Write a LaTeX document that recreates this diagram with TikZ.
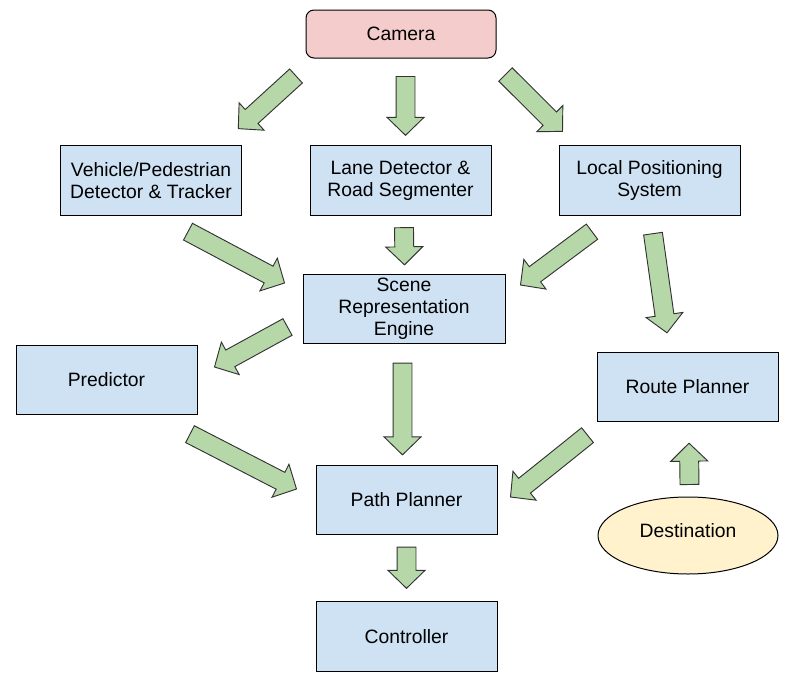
\documentclass[tikz,border=0pt]{standalone}
\usepackage{fontspec}
\setmainfont{Liberation Sans}
\usepackage{tikz}
\usetikzlibrary{calc, shapes.geometric}
\definecolor{boxblue}{HTML}{CFE2F3}
\definecolor{campink}{HTML}{F4CCCC}
\definecolor{destyellow}{HTML}{FFF2CC}
\definecolor{flowgreen}{HTML}{B6D7A8}
\definecolor{edgegray}{HTML}{333333}

% block arrow: tail #1, tip #2
\newcommand{\blockarrow}[2]{%
  \coordinate (ba-a) at #1;
  \coordinate (ba-b) at #2;
  \coordinate (ba-h) at ($(ba-b)!13.5pt!(ba-a)$);
  \draw[flow] ($(ba-a)!7.1pt!90:(ba-b)$) -- ($(ba-h)!7.1pt!90:(ba-b)$)
    -- ($(ba-h)!13.9pt!90:(ba-b)$) -- (ba-b)
    -- ($(ba-h)!13.9pt!-90:(ba-b)$) -- ($(ba-h)!7.1pt!-90:(ba-b)$)
    -- ($(ba-a)!7.1pt!-90:(ba-b)$) -- cycle;
}

\begin{document}
\begin{tikzpicture}[
    x=0.75pt, y=-0.75pt,
    box/.style={draw=black, line width=0.75pt, fill=boxblue, minimum width=135.75pt, minimum height=52pt, inner sep=2pt, align=center, font=\fontsize{14.5}{16.5}\selectfont},
    flow/.style={draw=edgegray, line width=0.7pt, fill=flowgreen, line join=miter}
]
\useasboundingbox (0,0) rectangle (800,696);

% Source
\node[box, fill=campink, rounded corners=6pt, minimum width=142.5pt, minimum height=36pt] (cam) at (401,34) {Camera};

% Perception row
\node[box] (vpd) at (151,180.5) {Vehicle/Pedestrian\\Detector \& Tracker};
\node[box] (lane) at (400.5,180.5) {Lane Detector \&\\Road Segmenter};
\node[box] (lps) at (649.5,180.5) {Local Positioning\\System};

% Scene
\node[box, minimum width=151.5pt] (scene) at (404,309) {Scene\\Representation\\Engine};

% Planning
\node[box] (pred) at (106.5,380) {Predictor};
\node[box] (route) at (687.5,387) {Route Planner};
\node[box] (path) at (406.5,500) {Path Planner};
\node[box] (ctrl) at (406.5,636.5) {Controller};
\node[box, ellipse, fill=destyellow, inner sep=0pt, text depth=7pt, minimum width=135pt, minimum height=57.75pt] (dest) at (688,535.5) {Destination};

% Flows
\blockarrow{($(cam.south west)+(-9.5,17.5)$)}{($(vpd.north east)+(-3.7,-16.7)$)}
\blockarrow{($(cam.south)+(4.5,18)$)}{($(lane.north)+(5,-10)$)}
\blockarrow{($(cam.south east)+(9,16)$)}{($(lps.north west)+(4,-14)$)}
\blockarrow{($(vpd.south)+(37,16)$)}{($(scene.west)+(-18,-26)$)}
\blockarrow{($(lane.south)+(3.5,12)$)}{($(scene.north)+(0.5,-9)$)}
\blockarrow{($(lps.south)+(-57.5,16)$)}{($(scene.east)+(15,-24)$)}
\blockarrow{($(lps.south)+(3.5,18)$)}{($(route.north)+(-20.5,-19)$)}
\blockarrow{($(scene.west)+(-15,18)$)}{($(pred.east)+(17,-13)$)}
\blockarrow{($(scene.south)+(-1.5,19)$)}{($(path.north)+(-4,-10)$)}
\blockarrow{($(pred.south)+(83.5,19)$)}{($(path.west)+(-19,-11)$)}
\blockarrow{($(route.south west)+(-9,13)$)}{($(path.east)+(13,-3)$)}
\blockarrow{($(path.south)+(0,12)$)}{($(ctrl.north)+(0,-13)$)}
\blockarrow{($(dest.north)+(1.5,-12)$)}{($(route.south)+(1.5,21)$)}

\end{tikzpicture}
\end{document}
